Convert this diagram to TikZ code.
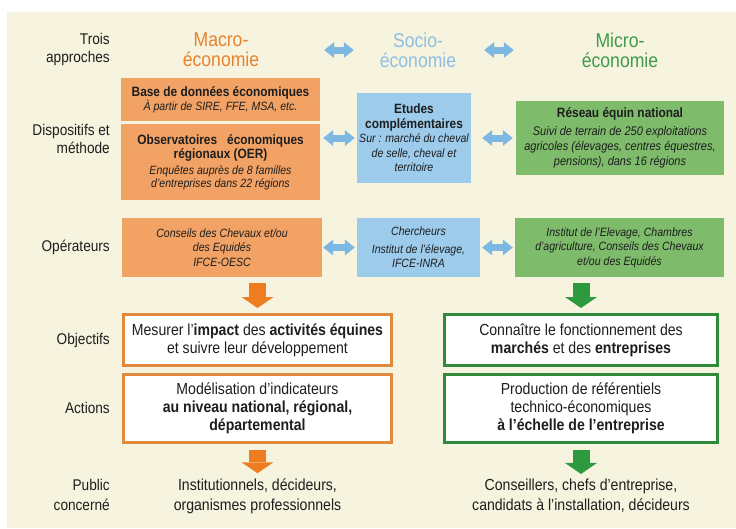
\documentclass[tikz,border=0pt]{standalone}
\usepackage{fontspec}
\setmainfont{Liberation Sans}[FakeStretch=0.88]
\setsansfont{Liberation Sans}[FakeStretch=0.88]
\usetikzlibrary{arrows.meta,calc}
\definecolor{cream}{HTML}{F6F4DE}
\definecolor{ofill}{HTML}{F2A264}
\definecolor{bfill}{HTML}{9DCBEC}
\definecolor{gfill}{HTML}{7EBB6B}
\definecolor{oborder}{HTML}{DF8A3E}
\definecolor{gborder}{HTML}{2F8A3C}
\definecolor{oarrow}{HTML}{EE7D22}
\definecolor{garrow}{HTML}{2E9A3F}
\definecolor{barrow}{HTML}{7DB8E2}
\definecolor{otitle}{HTML}{E6822E}
\definecolor{btitle}{HTML}{8DBFE3}
\definecolor{gtitle}{HTML}{3F9B4A}
\definecolor{ink}{HTML}{1E1E1E}
\begin{document}
\begin{tikzpicture}[x=1pt,y=-1pt,
 lab/.style={anchor=east, align=right, text=ink, inner sep=0pt, font=\fontsize{15.5}{18}\selectfont},
 ttl/.style={align=center, inner sep=0pt, font=\fontsize{20}{20}\selectfont},
 cbox/.style={inner sep=0pt, align=center, text=ink},
 obox/.style={cbox, fill=ofill},
 bbx/.style={cbox, fill=bfill},
 gbox/.style={cbox, fill=gfill},
 opbox/.style={minimum height=59pt, font=\fontsize{12}{14.5}\selectfont\itshape},
 wbox/.style={cbox, fill=white, line width=3pt, minimum width=268pt, font=\fontsize{16}{18}\selectfont},
 dbl/.style={barrow, line width=7pt, {Triangle[width=16pt,length=10pt,line width=0pt]}-{Triangle[width=16pt,length=10pt,line width=0pt]}},
 fatdown/.style={line width=17pt, -{Triangle[width=32pt,length=11pt,line width=0pt]}},
]
\fill[white] (0,0) rectangle (736,528);
\fill[cream] (7,12) rectangle (736,528);
\useasboundingbox (0,0) rectangle (736,528);

% titles
\node[ttl, text=otitle] (macro) at (221,50) {Macro-\\économie};
\node[ttl, text=btitle] (socio) at (418,50) {Socio-\\économie};
\node[ttl, text=gtitle] (micro) at (620,50) {Micro-\\économie};

% row labels
\node[lab] (l1) at (110,49) {Trois\\approches};
\node[lab] (l2) at (110,139) {Dispositifs et\\méthode};
\node[lab] (l3) at (110,247) {Opérateurs};
\node[lab] (l4) at (110,340) {Objectifs};
\node[lab] (l5) at (110,408) {Actions};
\node[lab, font=\fontsize{15.5}{20}\selectfont] (l6) at (110,495) {Public\\concerné};

% dispositifs
\node[obox, minimum width=199pt, minimum height=43pt, font=\fontsize{12}{14}\selectfont] (base) at (220.5,99.5)
 {{\fontsize{13.5}{14}\selectfont\bfseries Base de données économiques}\\{\itshape À partir de SIRE, FFE, MSA, etc.}};
\node[obox, minimum width=199pt, minimum height=76pt, font=\fontsize{12}{13}\selectfont] (obs) at (220.5,162)
 {{\fontsize{13.5}{14}\selectfont\bfseries Observatoires\hspace{10pt}économiques}\\[1pt]{\fontsize{13.5}{14}\selectfont\bfseries régionaux (OER)}\\[3pt]{\itshape Enquêtes auprès de 8 familles}\\{\itshape d’entreprises dans 22 régions}};
\node[bbx, minimum width=114pt, minimum height=90pt, font=\fontsize{12}{14.5}\selectfont] (etudes) at (414,138)
 {{\fontsize{13.5}{15}\selectfont\bfseries Etudes}\\{\fontsize{13.5}{15}\selectfont\bfseries complémentaires}\\{\itshape Sur : marché du cheval}\\{\itshape de selle, cheval et}\\{\itshape territoire}};
\node[gbox, minimum width=208pt, minimum height=74pt, font=\fontsize{12.5}{15}\selectfont] (reseau) at (620,138)
 {{\fontsize{13.5}{15}\selectfont\bfseries Réseau équin national}\\[3pt]{\itshape Suivi de terrain de 250 exploitations}\\{\itshape agricoles (élevages, centres équestres,}\\{\itshape pensions), dans 16 régions}};

% operateurs
\node[obox, opbox, minimum width=200pt] (opmacro) at (222,247.5)
 {Conseils des Chevaux et/ou\\des Equidés\\IFCE-OESC};
\node[bbx, opbox, minimum width=123pt, font=\fontsize{12}{14}\selectfont\itshape] (opsocio) at (418.5,247.5)
 {Chercheurs\\[4pt]Institut de l’élevage,\\IFCE-INRA};
\node[gbox, opbox, minimum width=209pt] (opmicro) at (619.5,247.5)
 {Institut de l’Elevage, Chambres\\d’agriculture, Conseils des Chevaux\\et/ou des Equidés};

% objectifs / actions
\node[wbox, draw=oborder, minimum height=51pt] (objmacro) at (257.5,340)
 {Mesurer l’\textbf{impact} des \textbf{activités équines}\\et suivre leur développement};
\node[wbox, draw=oborder, minimum height=68pt] (actmacro) at (257.5,408.5)
 {Modélisation d’indicateurs\\\textbf{au niveau national, régional,}\\\textbf{départemental}};
\node[wbox, draw=gborder, minimum width=273pt, minimum height=51pt] (objmicro) at (581,340)
 {Connaître le fonctionnement des\\\textbf{marchés} et des \textbf{entreprises}};
\node[wbox, draw=gborder, minimum width=273pt, minimum height=68pt] (actmicro) at (581,408.5)
 {Production de référentiels\\technico-économiques\\\textbf{à l’échelle de l’entreprise}};

% public
\node[cbox, font=\fontsize{16}{20}\selectfont] (pubmacro) at (257.5,496)
 {Institutionnels, décideurs,\\organismes professionnels};
\node[cbox, font=\fontsize{16}{20}\selectfont] (pubmicro) at (581,496)
 {Conseillers, chefs d’entreprise,\\candidats à l’installation, décideurs};

% double arrows
\draw[dbl, shorten <=4pt, shorten >=3pt] (base.east |- macro.center) -- (etudes.west |- macro.center);
\draw[dbl, shorten <=13pt, shorten >=2pt] (etudes.east |- micro.center) -- (reseau.west |- micro.center);
\draw[dbl, shorten <=3pt, shorten >=2pt] (obs.east |- etudes.west) -- (etudes.west);
\draw[dbl, shorten <=11pt, shorten >=3pt] (etudes.east) -- (reseau.west);
\draw[dbl, shorten <=1pt, shorten >=2pt] (opmacro.east) -- (opsocio.west);
\draw[dbl, shorten <=2pt, shorten >=2pt] (opsocio.east) -- (opmicro.west);

% down arrows
\draw[fatdown, oarrow, shorten <=6pt, shorten >=5pt] (opmacro.south -| objmacro.north) -- (objmacro.north);
\draw[fatdown, garrow, shorten <=6pt, shorten >=5pt] (opmicro.south -| objmicro.north) -- (objmicro.north);
\draw[fatdown, oarrow, shorten <=6pt, shorten >=5pt] (actmacro.south) -- (pubmacro.north);
\draw[fatdown, garrow, shorten <=6pt, shorten >=5pt] (actmicro.south) -- (pubmicro.north);
\end{tikzpicture}
\end{document}
